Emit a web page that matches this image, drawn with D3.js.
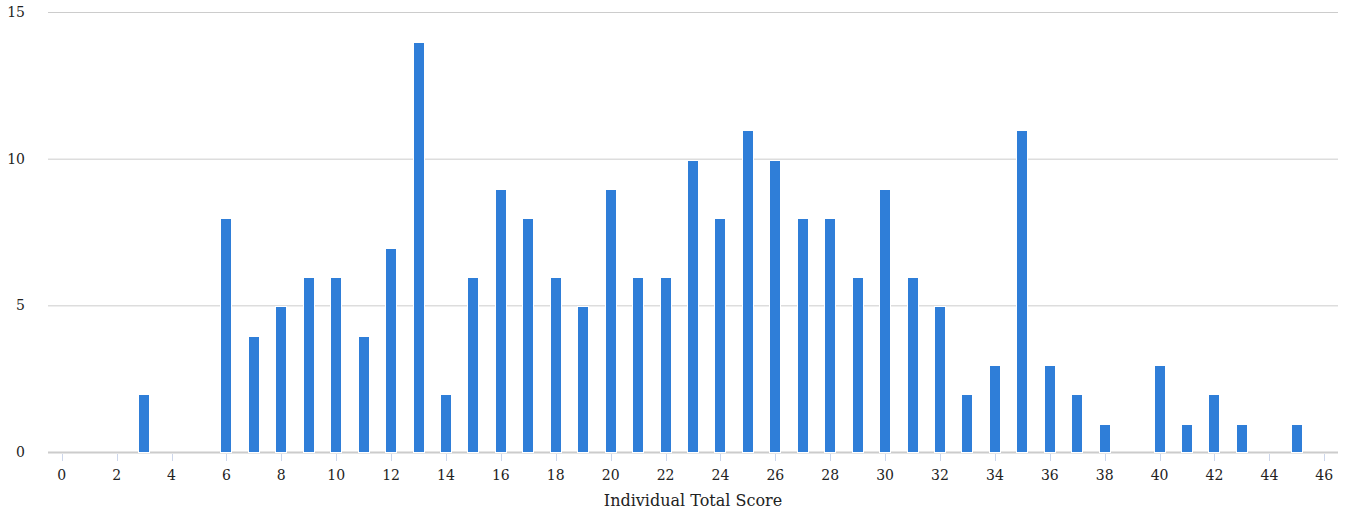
<!DOCTYPE html>
<html>
<head>
<meta charset="utf-8">
<script src="https://cdn.jsdelivr.net/npm/d3@7"></script>
<style>
  body { margin: 0; background: #fff; }
  text { font-family: "DejaVu Serif", serif; fill: #222; }
</style>
</head>
<body>
<svg id="chart" width="1352" height="516"></svg>
<script>
// scores 0..46 and how many individuals got each one
const scores = d3.range(0, 47);
const counts = [0, 0, 0, 2, 0, 0, 8, 4, 5, 6, 6, 4, 7, 14, 2, 6, 9, 8, 6, 5, 9, 6, 6, 10, 8, 11,
  10, 8, 8, 6, 9, 6, 5, 2, 3, 11, 3, 2, 1, 0, 3, 1, 2, 1, 0, 1, 0];
const yTicks = [0, 5, 10, 15];
const xTicks = d3.range(0, 47, 2);
const xTitle = "Individual Total Score";

const plotLeft = 48, plotRight = 1338, plotTop = 12, plotBottom = 452;
const svg = d3.select("#chart");

const x = d3.scaleLinear().domain([-0.5, 46.5]).range([plotLeft, plotRight]);
const y = d3.scaleLinear().domain([0, 15]).range([plotBottom, plotTop]);
const barW = 12;

// grid
svg.append("g")
  .selectAll("line")
  .data(yTicks.filter(d => d > 0))
  .join("line")
  .attr("x1", plotLeft).attr("x2", plotRight)
  .attr("y1", d => y(d) + 0.5).attr("y2", d => y(d) + 0.5)
  .attr("stroke", "#cccccc");

svg.append("g")
  .selectAll("text")
  .data(yTicks)
  .join("text")
  .attr("x", 25)
  .attr("y", d => y(d) + 5)
  .attr("text-anchor", "end")
  .attr("font-size", 14)
  .text(d => d);

// baseline
svg.append("line")
  .attr("x1", plotLeft).attr("x2", plotRight)
  .attr("y1", plotBottom + 0.5).attr("y2", plotBottom + 0.5)
  .attr("stroke", "#cccccc").attr("stroke-width", 2);

// x ticks
svg.append("g")
  .selectAll("line")
  .data(xTicks)
  .join("line")
  .attr("x1", d => Math.round(x(d)) + 0.5).attr("x2", d => Math.round(x(d)) + 0.5)
  .attr("y1", plotBottom + 2).attr("y2", plotBottom + 9)
  .attr("stroke", "#ccd6eb");

svg.append("g")
  .selectAll("text")
  .data(xTicks)
  .join("text")
  .attr("x", d => x(d))
  .attr("y", 480)
  .attr("text-anchor", "middle")
  .attr("font-size", 14)
  .text(d => d);

// bars
svg.append("g")
  .selectAll("rect")
  .data(scores.filter(s => counts[s] > 0))
  .join("rect")
  .attr("x", s => Math.round(x(s) - barW / 2) + 0.5)
  .attr("y", s => Math.round(y(counts[s])) + 1.5)
  .attr("width", barW - 1)
  .attr("height", s => plotBottom - Math.round(y(counts[s])) - 1)
  .attr("fill", "#2f7ed8")
  .attr("stroke", "#ffffff")
  .attr("stroke-width", 1);

svg.append("text")
  .attr("x", (plotLeft + plotRight) / 2)
  .attr("y", 506)
  .attr("text-anchor", "middle")
  .attr("font-size", 16)
  .text(xTitle);
</script>
</body>
</html>
